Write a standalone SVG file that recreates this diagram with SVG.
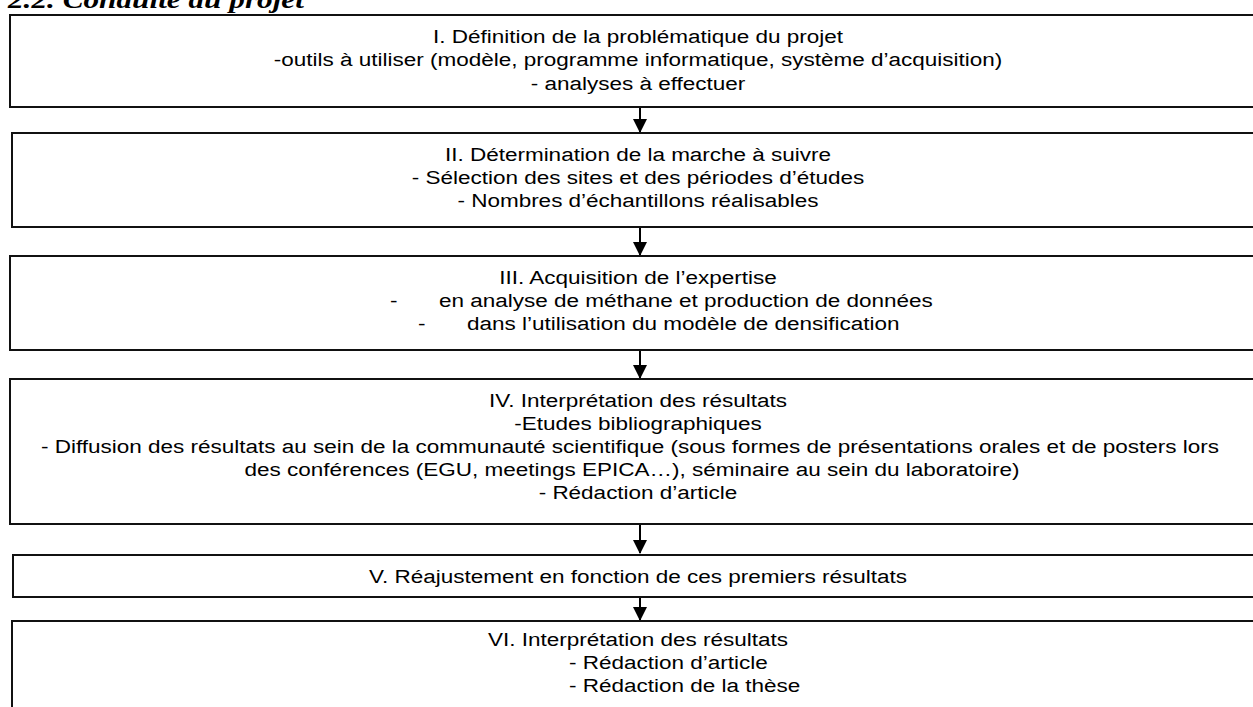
<svg xmlns="http://www.w3.org/2000/svg" width="1253" height="707" viewBox="0 0 1253 707">
<defs>
<style>
.box{fill:#fff;stroke:#111;stroke-width:2}
.t{font-family:"Liberation Sans",Arial,sans-serif;font-size:18px;fill:#000}
.c{text-anchor:middle}
.title{font-family:"Liberation Serif","Times New Roman",serif;font-size:25px;font-weight:bold;font-style:italic;fill:#000}
.conn{stroke:#000;stroke-width:2;fill:none}
</style>
<marker id="ah" viewBox="0 0 14 14" refX="13" refY="7" markerWidth="14" markerHeight="14" markerUnits="userSpaceOnUse" orient="auto">
<path d="M0,0 L14,7 L0,14 Z" fill="#000"/>
</marker>
</defs>
<rect width="1253" height="707" fill="#fff"/>
<text class="title" transform="translate(8,8) scale(1.25,1)">2.2. Conduite du projet</text>

<g id="connectors">
<line class="conn" x1="640" y1="108" x2="640" y2="132" marker-end="url(#ah)"/>
<line class="conn" x1="640" y1="228" x2="640" y2="255" marker-end="url(#ah)"/>
<line class="conn" x1="640" y1="351" x2="640" y2="378" marker-end="url(#ah)"/>
<line class="conn" x1="640" y1="525" x2="640" y2="553" marker-end="url(#ah)"/>
<line class="conn" x1="640" y1="598" x2="640" y2="620" marker-end="url(#ah)"/>
</g>

<g id="node1">
<rect class="box" x="10" y="15" width="1260" height="92"/>
<text class="t c" transform="translate(638,43) scale(1.25,1)">I. Définition de la problématique du projet</text>
<text class="t c" transform="translate(638,66) scale(1.25,1)">-outils à utiliser (modèle, programme informatique, système d’acquisition)</text>
<text class="t c" transform="translate(638,90) scale(1.25,1)">- analyses à effectuer</text>
</g>

<g id="node2">
<rect class="box" x="12" y="133" width="1260" height="94"/>
<text class="t c" transform="translate(638,161) scale(1.25,1)">II. Détermination de la marche à suivre</text>
<text class="t c" transform="translate(638,184) scale(1.25,1)">- Sélection des sites et des périodes d’études</text>
<text class="t c" transform="translate(638,207) scale(1.25,1)">- Nombres d’échantillons réalisables</text>
</g>

<g id="node3">
<rect class="box" x="10" y="256" width="1260" height="94"/>
<text class="t c" transform="translate(638,284) scale(1.25,1)">III. Acquisition de l’expertise</text>
<text class="t" transform="translate(390,307) scale(1.25,1)">-</text>
<text class="t" transform="translate(439,307) scale(1.25,1)">en analyse de méthane et production de données</text>
<text class="t" transform="translate(418,330) scale(1.25,1)">-</text>
<text class="t" transform="translate(467,330) scale(1.25,1)">dans l’utilisation du modèle de densification</text>
</g>

<g id="node4">
<rect class="box" x="10" y="379" width="1260" height="145"/>
<text class="t c" transform="translate(638,407) scale(1.25,1)">IV. Interprétation des résultats</text>
<text class="t c" transform="translate(638,430) scale(1.25,1)">-Etudes bibliographiques</text>
<text class="t c" transform="translate(630,453) scale(1.25,1)">- Diffusion des résultats au sein de la communauté scientifique (sous formes de présentations orales et de posters lors</text>
<text class="t c" transform="translate(632,476) scale(1.25,1)">des conférences (EGU, meetings EPICA…), séminaire au sein du laboratoire)</text>
<text class="t c" transform="translate(638,499) scale(1.25,1)">- Rédaction d’article</text>
</g>

<g id="node5">
<rect class="box" x="13" y="555" width="1260" height="42"/>
<text class="t c" transform="translate(638,583) scale(1.25,1)">V. Réajustement en fonction de ces premiers résultats</text>
</g>

<g id="node6">
<rect class="box" x="12" y="621" width="1260" height="110"/>
<text class="t" transform="translate(488,646) scale(1.25,1)">VI. Interprétation des résultats</text>
<text class="t" transform="translate(569,669) scale(1.25,1)">- Rédaction d’article</text>
<text class="t" transform="translate(569,692) scale(1.25,1)">- Rédaction de la thèse</text>
</g>
</svg>
